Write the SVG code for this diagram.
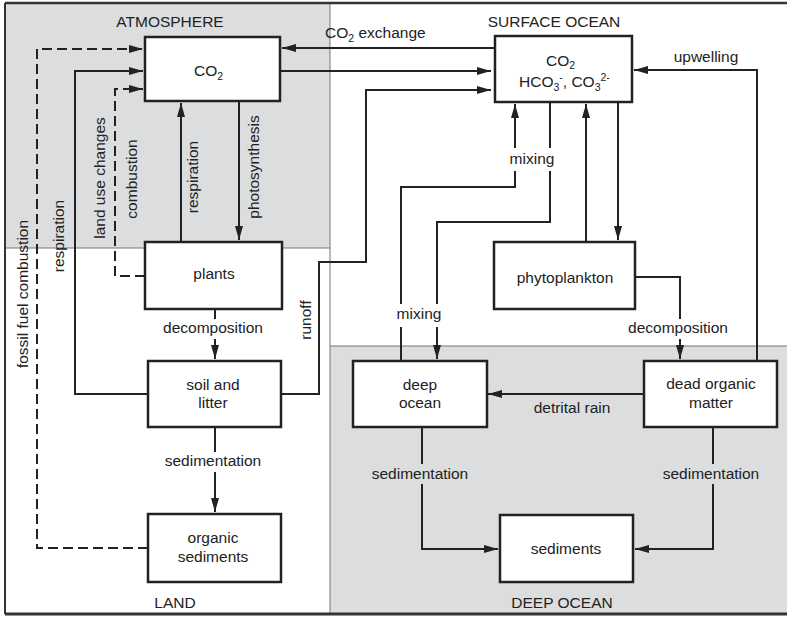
<svg xmlns="http://www.w3.org/2000/svg" width="787" height="618" viewBox="0 0 787 618">
<style>
text{font-family:"Liberation Sans",Arial,sans-serif;font-size:15.5px;fill:#222}
.c{text-anchor:middle}
.box{fill:#fff;stroke:#222;stroke-width:2.5}
.ln{fill:none;stroke:#222;stroke-width:2}
.ds{fill:none;stroke:#222;stroke-width:2;stroke-dasharray:10,5}
.div{fill:none;stroke:#777;stroke-width:1}
.g{fill:#dcdddf}
.w{fill:#fff}
</style>
<defs>
<marker id="a" viewBox="0 0 14 8" refX="14" refY="4" markerWidth="14" markerHeight="8" markerUnits="userSpaceOnUse" orient="auto">
<path d="M0,0 L14,4 L0,8 z" fill="#222"/>
</marker>
</defs>
<g id="regions">
<rect x="5" y="3" width="325" height="245" class="g"/>
<rect x="330" y="346" width="460" height="268" class="g"/>
<line x1="5" y1="248" x2="330" y2="248" class="div"/>
<line x1="330" y1="3" x2="330" y2="614" class="div"/>
<line x1="330" y1="346" x2="790" y2="346" class="div"/>
<line x1="5" y1="3" x2="790" y2="3" stroke="#333" stroke-width="2.5"/>
<line x1="5" y1="614" x2="790" y2="614" stroke="#333" stroke-width="3"/>
<line x1="5" y1="3" x2="5" y2="614" stroke="#333" stroke-width="2"/>
<text x="170" y="27" class="c">ATMOSPHERE</text>
<text x="554" y="27" class="c">SURFACE OCEAN</text>
<text x="175" y="608" class="c">LAND</text>
<text x="562" y="608" class="c">DEEP OCEAN</text>
</g>
<g id="connectors">
<path d="M495,48 H282" class="ln" marker-end="url(#a)"/>
<path d="M280,71 H491" class="ln" marker-end="url(#a)"/>
<path d="M281,394 H319 V262 H366 V90 H491" class="ln" marker-end="url(#a)"/>
<path d="M148,394 H75 V71 H143" class="ln" marker-end="url(#a)"/>
<path d="M148,548 H37 V49 H143" class="ds" marker-end="url(#a)"/>
<path d="M145,276 H115 V89 H143" class="ds" marker-end="url(#a)"/>
<path d="M181,242 V103" class="ln" marker-end="url(#a)"/>
<path d="M239,101 V240" class="ln" marker-end="url(#a)"/>
<path d="M215,309 V359" class="ln" marker-end="url(#a)"/>
<path d="M215,427 V512" class="ln" marker-end="url(#a)"/>
<path d="M401,361 V187 H515 V104" class="ln" marker-end="url(#a)"/>
<path d="M550,102 V222 H437 V359" class="ln" marker-end="url(#a)"/>
<path d="M586,242 V104" class="ln" marker-end="url(#a)"/>
<path d="M618,102 V240" class="ln" marker-end="url(#a)"/>
<path d="M757,361 V70 H634" class="ln" marker-end="url(#a)"/>
<path d="M635,277 H680 V359" class="ln" marker-end="url(#a)"/>
<path d="M644,394 H488" class="ln" marker-end="url(#a)"/>
<path d="M422,427 V549 H498" class="ln" marker-end="url(#a)"/>
<path d="M713,427 V549 H635" class="ln" marker-end="url(#a)"/>
<rect x="160" y="319" width="108" height="20" class="w"/>
<rect x="160" y="452" width="108" height="20" class="w"/>
<rect x="506" y="148" width="52" height="23" class="w"/>
<rect x="394" y="304" width="51" height="23" class="w"/>
<rect x="624" y="319" width="108" height="20" class="w"/>
<rect x="368" y="464" width="106" height="20" class="g"/>
<rect x="659" y="464" width="106" height="20" class="g"/>
<text x="325" y="38">CO<tspan font-size="10.5" dy="4">2</tspan><tspan dy="-4"> exchange</tspan></text>
<text x="706" y="62" class="c">upwelling</text>
<text x="532" y="164" class="c">mixing</text>
<text x="419" y="319" class="c">mixing</text>
<text x="213" y="333" class="c">decomposition</text>
<text x="213" y="466" class="c">sedimentation</text>
<text x="678" y="333" class="c">decomposition</text>
<text x="572" y="413" class="c">detrital rain</text>
<text x="420" y="479" class="c">sedimentation</text>
<text x="711" y="479" class="c">sedimentation</text>
<text transform="translate(28,294) rotate(-90)" class="c">fossil fuel combustion</text>
<text transform="translate(64,236) rotate(-90)" class="c">respiration</text>
<text transform="translate(105,178) rotate(-90)" class="c">land use changes</text>
<text transform="translate(137,179) rotate(-90)" class="c">combustion</text>
<text transform="translate(198,177) rotate(-90)" class="c">respiration</text>
<text transform="translate(259,167) rotate(-90)" class="c">photosynthesis</text>
<text transform="translate(311,320) rotate(-90)" class="c">runoff</text>
</g>
<g id="co2-atm">
<rect x="145" y="37" width="135" height="64" class="box"/>
<text x="194" y="76">CO<tspan font-size="10.5" dy="4">2</tspan></text>
</g>
<g id="surface-ocean">
<rect x="495" y="36" width="137" height="66" class="box"/>
<text x="546" y="66">CO<tspan font-size="10.5" dy="3">2</tspan></text>
<text x="519" y="87">HCO<tspan font-size="10.5" dy="4">3</tspan><tspan font-size="10.5" dy="-10">-</tspan><tspan dy="6">, CO</tspan><tspan font-size="10.5" dy="4">3</tspan><tspan font-size="10.5" dy="-10">2-</tspan></text>
</g>
<g id="plants">
<rect x="145" y="242" width="137" height="67" class="box"/>
<text x="214" y="279" class="c">plants</text>
</g>
<g id="soil">
<rect x="148" y="361" width="133" height="66" class="box"/>
<text x="213" y="390" class="c">soil and</text>
<text x="213" y="408" class="c">litter</text>
</g>
<g id="organic-sediments">
<rect x="148" y="514" width="133" height="68" class="box"/>
<text x="213" y="543" class="c">organic</text>
<text x="213" y="562" class="c">sediments</text>
</g>
<g id="phytoplankton">
<rect x="494" y="242" width="141" height="67" class="box"/>
<text x="565" y="283" class="c">phytoplankton</text>
</g>
<g id="deep-ocean">
<rect x="353" y="361" width="134" height="66" class="box"/>
<text x="420" y="390" class="c">deep</text>
<text x="420" y="408" class="c">ocean</text>
</g>
<g id="dead-organic-matter">
<rect x="644" y="361" width="133" height="66" class="box"/>
<text x="711" y="389" class="c">dead organic</text>
<text x="711" y="408" class="c">matter</text>
</g>
<g id="sediments">
<rect x="500" y="515" width="133" height="67" class="box"/>
<text x="566" y="554" class="c">sediments</text>
</g>
</svg>
